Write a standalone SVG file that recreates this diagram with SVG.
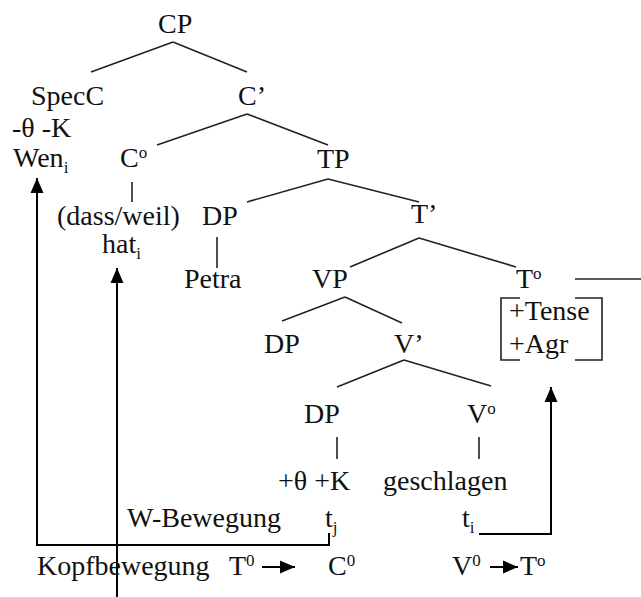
<svg xmlns="http://www.w3.org/2000/svg" width="641" height="597" viewBox="0 0 641 597">
<defs>
<style>
text{font-family:'Liberation Serif','Tinos','Times New Roman','DejaVu Serif',serif;font-size:28px;fill:#111}
.sub{font-size:17px}
.sup{font-size:17px}
.l{stroke:#222;stroke-width:1.6;fill:none}
.a{stroke:#000;stroke-width:2;fill:none}
</style>
<marker id="ah" markerUnits="userSpaceOnUse" markerWidth="16" markerHeight="16" viewBox="0 0 16 16" refX="15" refY="8" orient="auto">
<path d="M0,1.5 L15,8 L0,14.5 z" fill="#000"/>
</marker>
</defs>
<rect width="641" height="597" fill="#fff"/>
<g id="connectors">
<path class="l" d="M173,42 L91,72 M173,42 L247,72"/>
<path class="l" d="M247,114 L157,145 M247,114 L328,145"/>
<path class="l" d="M132,182 V202"/>
<path class="l" d="M328,179 L247,202 M328,179 L419,202"/>
<path class="l" d="M217,237 V268"/>
<path class="l" d="M419,238 L350,267 M419,238 L516,267"/>
<path class="l" d="M575,279 H641"/>
<path class="l" d="M345,297 L282,321 M345,297 L402,323"/>
<path class="l" d="M404,360 L337,387 M404,360 L491,386"/>
<path class="l" d="M337,437 V459 M479,437 V459"/>
<path class="l" d="M520,298 H501 V360 H520 M575,298 H602 V360 H575"/>
<path class="a" d="M329,533 V545 H37 V178" marker-end="url(#ah)"/>
<path class="a" d="M117,597 V268" marker-end="url(#ah)"/>
<path class="a" d="M479,534 H551 V387" marker-end="url(#ah)"/>
<path class="a" d="M262,567 H295" marker-end="url(#ah)"/>
<path class="a" d="M490,567 H518" marker-end="url(#ah)"/>
</g>
<g id="CP"><text x="158" y="33">CP</text></g>
<g id="SpecC"><text x="31" y="105">SpecC</text><text x="12" y="137">-θ -K</text><text x="13" y="167">Wen<tspan class="sub" dy="6">i</tspan></text></g>
<g id="Cbar"><text x="238" y="105">C’</text></g>
<g id="C0"><text x="120" y="167">C<tspan class="sup" dy="-9">o</tspan></text><text x="57" y="225">(dass/weil)</text><text x="102" y="253">hat<tspan class="sub" dy="6">i</tspan></text></g>
<g id="TP"><text x="317" y="168">TP</text></g>
<g id="DP1"><text x="202" y="225">DP</text><text x="184" y="288">Petra</text></g>
<g id="Tbar"><text x="411" y="223">T’</text></g>
<g id="VP"><text x="312" y="288">VP</text></g>
<g id="T0"><text x="516" y="288">T<tspan class="sup" dy="-9">o</tspan></text><text x="509" y="320">+Tense</text><text x="509" y="353">+Agr</text></g>
<g id="DP2"><text x="264" y="353">DP</text></g>
<g id="Vbar"><text x="394" y="353">V’</text></g>
<g id="DP3"><text x="304" y="423">DP</text><text x="278" y="490">+θ +K</text><text x="325" y="527">t<tspan class="sub" dy="6">j</tspan></text></g>
<g id="V0"><text x="467" y="423">V<tspan class="sup" dy="-9">o</tspan></text><text x="383" y="490">geschlagen</text><text x="462" y="527">t<tspan class="sub" dy="6">i</tspan></text></g>
<g id="labels">
<text x="127" y="527">W-Bewegung</text>
<text x="37" y="575">Kopfbewegung</text>
<text x="229" y="575">T<tspan class="sup" dy="-9">0</tspan></text>
<text x="328" y="575">C<tspan class="sup" dy="-9">0</tspan></text>
<text x="452" y="575">V<tspan class="sup" dy="-9">0</tspan></text>
<text x="520" y="575">T<tspan class="sup" dy="-9">o</tspan></text>
</g>
</svg>
